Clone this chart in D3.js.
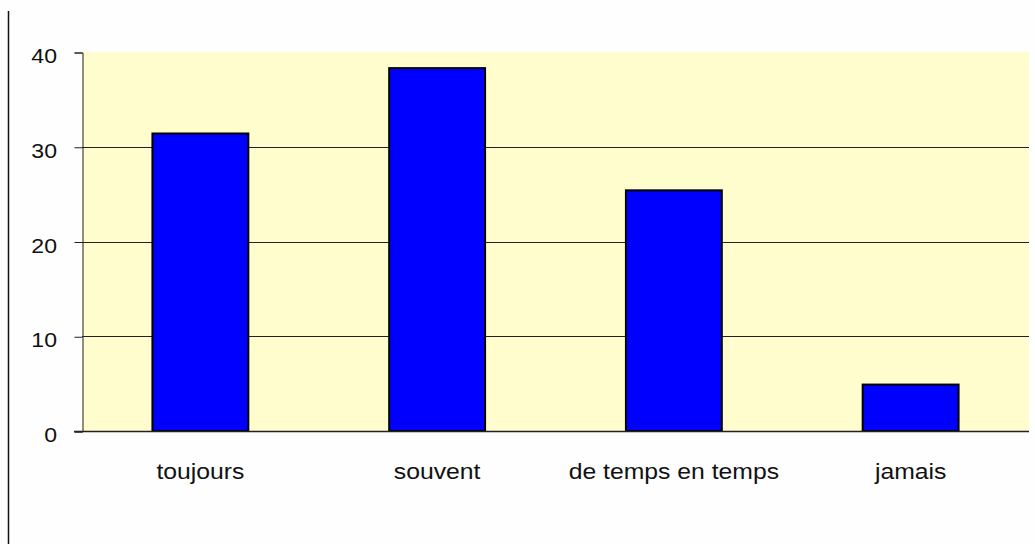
<!DOCTYPE html>
<html>
<head>
<meta charset="utf-8">
<script src="https://cdn.jsdelivr.net/npm/d3@7"></script>
<style>
  body { margin: 0; background: #fefefe; }
  svg { display: block; }
</style>
</head>
<body>
<div id="chart"></div>
<script>
// data
const categories = ["toujours", "souvent", "de temps en temps", "jamais"]
const values = [31.4, 38.3, 25.4, 4.9]
const yTicks = [0, 10, 20, 30, 40]

const W = 1035, H = 544
const margin = {left: 82, right: 6, top: 52, bottom: 113}
const FONT = 'Liberation Sans, Arial, sans-serif'
const stretch = 1.1   // the text in the original is a bit wider than Arial

const svg = d3.select('#chart').append('svg')
  .attr('width', W)
  .attr('height', H)

const x = d3.scaleBand()
  .domain(categories)
  .range([margin.left, W - margin.right])
  .paddingInner(0.595)
  .paddingOuter(0.2975)

const y = d3.scaleLinear()
  .domain([0, 40])
  .range([H - margin.bottom, margin.top])

// outer left border line
svg.append('line')
  .attr('x1', 8.5).attr('x2', 8.5)
  .attr('y1', 11).attr('y2', H)
  .attr('stroke', '#111').attr('stroke-width', 1.5)

// plot area
svg.append('rect')
  .attr('x', margin.left)
  .attr('y', margin.top)
  .attr('width', W - margin.right - margin.left)
  .attr('height', y(0) - margin.top)
  .attr('fill', '#fffccd')

// grid lines
svg.append('g')
  .selectAll('line')
  .data(yTicks.filter(d => d > 0 && d < 40))
  .join('line')
    .attr('x1', margin.left).attr('x2', W - margin.right)
    .attr('y1', d => Math.round(y(d)) + 0.5)
    .attr('y2', d => Math.round(y(d)) + 0.5)
    .attr('stroke', '#222')

// y axis
const yAxis = svg.append('g')
  .attr('transform', `translate(${margin.left + 0.5},0.5)`)
  .call(d3.axisLeft(y).tickValues(yTicks).tickSize(8))
yAxis.select('.domain').attr('stroke', '#222')
yAxis.selectAll('.tick line').attr('stroke', '#222')
yAxis.selectAll('.tick text')
  .attr('x', -25.5 / stretch)
  .attr('dy', 10)
  .attr('transform', `scale(${stretch},1)`)
  .attr('font-family', FONT)
  .attr('font-size', 21)
  .attr('fill', '#111')

// bars
svg.append('g')
  .selectAll('rect')
  .data(values)
  .join('rect')
    .attr('x', (d, i) => x(categories[i]))
    .attr('y', d => y(d))
    .attr('width', x.bandwidth())
    .attr('height', d => y(0) - y(d))
    .attr('fill', '#0000ff')
    .attr('stroke', '#000')
    .attr('stroke-width', 2)

// x axis baseline
svg.append('line')
  .attr('x1', margin.left - 8).attr('x2', W - margin.right)
  .attr('y1', y(0) + 0.5).attr('y2', y(0) + 0.5)
  .attr('stroke', '#222').attr('stroke-width', 1.5)

// category labels
svg.append('g')
  .selectAll('text')
  .data(categories)
  .join('text')
    .attr('transform', d => `translate(${x(d) + x.bandwidth() / 2},479) scale(${stretch},1)`)
    .attr('text-anchor', 'middle')
    .attr('font-family', FONT)
    .attr('font-size', 22.5)
    .attr('fill', '#111')
    .text(d => d)
</script>
</body>
</html>
